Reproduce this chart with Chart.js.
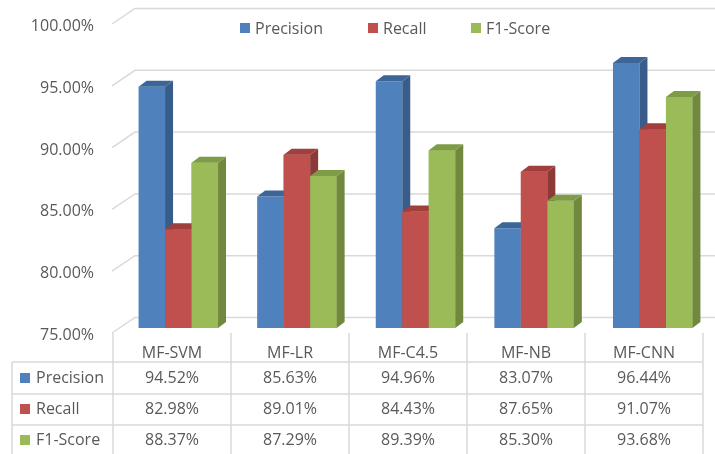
<!DOCTYPE html>
<html>
<head>
<meta charset="utf-8">
<script src="https://cdn.jsdelivr.net/npm/chart.js@4/dist/chart.umd.min.js"></script>
<style>
  html, body { margin: 0; padding: 0; background: #ffffff; }
  #wrap { position: relative; width: 715px; height: 454px; }
</style>
</head>
<body>
<div id="wrap"><canvas id="c" width="715" height="454"></canvas></div>
<script>
// Classifier comparison: precision / recall / F1 per model (percent)
const categories = ['MF-SVM', 'MF-LR', 'MF-C4.5', 'MF-NB', 'MF-CNN'];
const precision = [94.52, 85.63, 94.96, 83.07, 96.44];
const recall    = [82.98, 89.01, 84.43, 87.65, 91.07];
const f1Score   = [88.37, 87.29, 89.39, 85.30, 93.68];
const seriesNames = ['Precision', 'Recall', 'F1-Score'];
const yMin = 75, yMax = 100, yStep = 5;

const FONT = '16px "Open Sans", "Liberation Sans", sans-serif';
const TEXT = '#595959';
const GRID = '#d9d9d9';

// front / side / top face colours per series
const faces = [
  { front: '#4f81bd', side: '#385d8a', top: '#3c6598' },
  { front: '#c0504d', side: '#8c3a38', top: '#a13f3c' },
  { front: '#9bbb59', side: '#71893f', top: '#7e9c45' }
];
const DX = 8, DY = -6;          // bar depth offset
const fmt = v => v.toFixed(2) + '%';

// perspective gridlines on the back wall + side wall, with value labels
const gridPlugin = {
  id: 'grid3d',
  beforeDatasetsDraw(chart) {
    const { ctx, chartArea, scales: { y } } = chart;
    ctx.save();
    ctx.strokeStyle = GRID;
    ctx.lineWidth = 1.5;
    ctx.font = FONT;
    ctx.fillStyle = TEXT;
    ctx.textAlign = 'right';
    ctx.textBaseline = 'alphabetic';
    y.ticks.forEach(t => {
      const py = y.getPixelForValue(t.value);
      ctx.beginPath();
      ctx.moveTo(chartArea.left - 7, py + 5);
      ctx.lineTo(chartArea.left + 16, py - 10.5);
      ctx.lineTo(715, py - 10.5);
      ctx.stroke();
      ctx.fillText(fmt(t.value), chartArea.left - 25, py + 12);
    });
    ctx.restore();
  }
};

// side and top faces of each bar, series drawn left to right
const depthPlugin = {
  id: 'bars3d',
  afterDatasetsDraw(chart) {
    const ctx = chart.ctx;
    ctx.save();
    chart.data.datasets.forEach((ds, d) => {
      const meta = chart.getDatasetMeta(d);
      const col = faces[d];
      meta.data.forEach(bar => {
        if (d > 0) bar.draw(ctx);
        const { x, y, base, width } = bar.getProps(['x', 'y', 'base', 'width'], true);
        const l = x - width / 2, r = x + width / 2;
        ctx.fillStyle = col.side;
        ctx.beginPath();
        ctx.moveTo(r, y);
        ctx.lineTo(r + DX, y + DY);
        ctx.lineTo(r + DX, base + DY);
        ctx.lineTo(r, base);
        ctx.closePath();
        ctx.fill();
        ctx.fillStyle = col.top;
        ctx.beginPath();
        ctx.moveTo(l, y);
        ctx.lineTo(l + DX, y + DY);
        ctx.lineTo(r + DX, y + DY);
        ctx.lineTo(r, y);
        ctx.closePath();
        ctx.fill();
      });
    });
    ctx.restore();
  }
};

// legend inside the plot and the data table underneath
const tablePlugin = {
  id: 'dataTable',
  afterDraw(chart) {
    const ctx = chart.ctx;
    ctx.save();
    ctx.font = FONT;
    ctx.textBaseline = 'alphabetic';

    // legend
    const legendX = [240, 368, 471];
    seriesNames.forEach((name, i) => {
      ctx.fillStyle = faces[i].front;
      ctx.fillRect(legendX[i], 23, 10, 10);
      ctx.fillStyle = TEXT;
      ctx.textAlign = 'left';
      ctx.fillText(name, legendX[i] + 15, 33.5);
    });

    // table grid
    const tLeft = 12, c0 = 113, cw = 118;
    const rows = [362, 394, 425, 457];
    const baselines = [383, 414, 445];
    ctx.strokeStyle = GRID;
    ctx.lineWidth = 1.5;
    ctx.beginPath();
    for (let i = 0; i <= categories.length; i++) {
      const x = c0 + cw * i;
      ctx.moveTo(x, 333);
      ctx.lineTo(x, 454);
    }
    ctx.moveTo(tLeft, rows[0]);
    ctx.lineTo(tLeft, 454);
    rows.forEach(ry => {
      ctx.moveTo(tLeft, ry);
      ctx.lineTo(c0 + cw * categories.length, ry);
    });
    ctx.stroke();

    // header
    ctx.fillStyle = TEXT;
    ctx.textAlign = 'center';
    categories.forEach((cat, i) => ctx.fillText(cat, c0 + cw * i + cw / 2, 357.5));

    // rows
    const series = [precision, recall, f1Score];
    series.forEach((vals, r) => {
      const by = baselines[r];
      ctx.fillStyle = faces[r].front;
      ctx.fillRect(20, by - 10, 10, 10);
      ctx.fillStyle = TEXT;
      ctx.textAlign = 'left';
      ctx.fillText(seriesNames[r], 36, by);
      ctx.textAlign = 'center';
      vals.forEach((v, i) => ctx.fillText(fmt(v), c0 + cw * i + cw / 2, by));
    });
    ctx.restore();
  }
};

new Chart(document.getElementById('c'), {
  type: 'bar',
  data: {
    labels: categories,
    datasets: [precision, recall, f1Score].map((vals, i) => ({
      label: seriesNames[i],
      data: vals,
      base: yMin,
      backgroundColor: faces[i].front,
      borderWidth: 0,
      categoryPercentage: 0.67,
      barPercentage: 1.0
    }))
  },
  options: {
    responsive: false,
    animation: false,
    events: [],
    layout: { padding: { top: 19, bottom: 126, left: 119, right: 3 } },
    plugins: { legend: { display: false }, tooltip: { enabled: false } },
    scales: {
      x: { display: false, offset: true },
      y: { display: false, min: yMin, max: yMax, ticks: { stepSize: yStep } }
    }
  },
  plugins: [gridPlugin, depthPlugin, tablePlugin]
});
</script>
</body>
</html>
